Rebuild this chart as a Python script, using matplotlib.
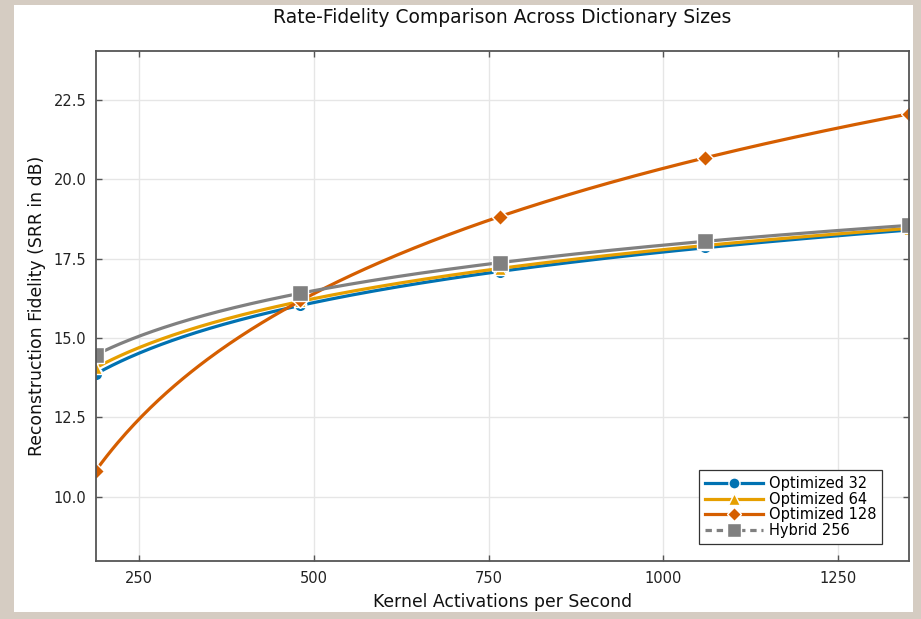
import numpy as np
import matplotlib.pyplot as plt
from matplotlib.patches import Rectangle
from matplotlib.lines import Line2D

# kernel activations per second for each configuration
activations = [188, 480, 767, 1060, 1352]

# reconstruction fidelity (SRR, dB) per dictionary
opt32 = [13.87, 16.03, 17.09, 17.86, 18.40]
opt64 = [14.06, 16.16, 17.19, 17.95, 18.43]
opt128 = [10.82, 16.19, 18.82, 20.68, 22.07]
hybrid256 = [14.47, 16.41, 17.38, 18.05, 18.55]

labels = ['Optimized 32', 'Optimized 64', 'Optimized 128', 'Hybrid 256']
series = [opt32, opt64, opt128, hybrid256]
colors = ['#0072B2', '#E69F00', '#D55E00', '#808080']
markers = ['o', '^', 'D', 's']
msizes = [9, 9, 8, 11]
legend_ls = ['-', '-', '-', (0, (2, 1.5))]

W, H = 921, 619
fig = plt.figure(figsize=(W / 100, H / 100), dpi=100, facecolor='#D5CCC2')
fig.patches.append(Rectangle((14 / W, (H - 612) / H), (913 - 14) / W, (612 - 5) / H,
                             transform=fig.transFigure, facecolor='white',
                             edgecolor='none', zorder=-1))

ax = fig.add_axes([96 / W, (H - 561) / H, (909 - 96) / W, (561 - 51) / H])

x = np.array(activations, dtype=float)
xs = np.linspace(x[0], x[-1], 300)
handles = []
for y, lab, c, m, ms, ls in zip(series, labels, colors, markers, msizes, legend_ls):
    # smooth log trend through the measured points
    b, a = np.polyfit(np.log(x), y, 1)
    ax.plot(xs, a + b * np.log(xs), color=c, lw=2.3, solid_capstyle='round')
    ax.plot(x, y, ls='none', marker=m, ms=ms, color=c, mec='white', mew=1.0)
    handles.append(Line2D([], [], color=c, lw=2.3, ls=ls, marker=m, ms=ms - 1,
                          mec='white', mew=1.0))

ax.set_xlim(activations[0], activations[-1])
ax.set_ylim(7.97, 24.05)
ax.set_xticks([250, 500, 750, 1000, 1250])
ax.set_yticks([10.0, 12.5, 15.0, 17.5, 20.0, 22.5])
ax.set_yticklabels(['10.0', '12.5', '15.0', '17.5', '20.0', '22.5'])
ax.grid(True, color='#e6e6e6', lw=1.0)
ax.set_axisbelow(True)
ax.tick_params(direction='in', top=True, right=True, length=4, width=1,
               color='#555555', labelsize=10.5, labelcolor='#222222', pad=7)
for s in ax.spines.values():
    s.set_color('#555555')
    s.set_linewidth(1.3)

ax.set_title('Rate-Fidelity Comparison Across Dictionary Sizes', fontsize=13.5,
             color='#111111', pad=20)
ax.set_xlabel('Kernel Activations per Second', fontsize=12.4, color='#111111', labelpad=5)
ax.set_ylabel('Reconstruction Fidelity (SRR in dB)', fontsize=12.4, color='#111111', labelpad=5)

leg = ax.legend(handles=handles, labels=labels, loc='lower right',
                bbox_to_anchor=(1 - 27 / 813, 17 / 510), fontsize=10.5,
                fancybox=False, framealpha=1, edgecolor='#333333',
                handlelength=4.0, borderpad=0.4, labelspacing=0.05,
                handletextpad=0.4, borderaxespad=0)
leg.get_frame().set_linewidth(0.9)

fig.savefig('out.png', dpi=100, facecolor=fig.get_facecolor())
